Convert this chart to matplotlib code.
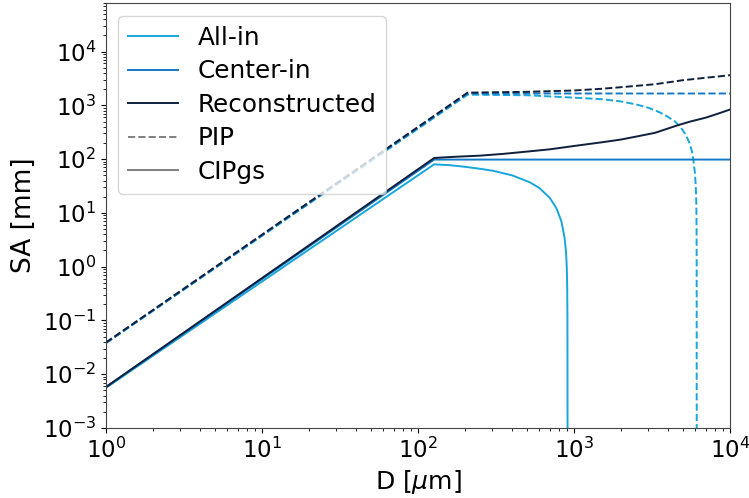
import matplotlib
matplotlib.use("Agg")
import matplotlib.pyplot as plt
from matplotlib.lines import Line2D

# colours per acceptance criterion
c_all = "#18a6dc"
c_center = "#1479c6"
c_recon = "#0f1f3d"

# CIPgs (solid)
cip_all_D = [1, 127, 160, 200, 250, 300, 400, 522, 600, 700, 774, 830, 870, 890,
             900, 905, 908, 910]
cip_all_SA = [0.0056, 80, 77, 72, 66, 61, 50, 37, 29, 19, 12, 7, 3.5, 1.8,
              0.9, 0.4, 0.1, 0.0001]

cip_center_D = [1, 127, 10000]
cip_center_SA = [0.0057, 98, 98]

cip_recon_D = [1, 127, 168, 250, 351, 500, 700, 1040, 1500, 2000, 2500, 3305,
               4000, 4550, 5500, 7000, 8500, 10000]
cip_recon_SA = [0.0058, 105, 110, 116, 125, 138, 152, 178, 205, 231, 262, 308,
                370, 420, 495, 590, 710, 835]

# PIP (dashed)
pip_all_D = [1, 208, 500, 1000, 1500, 1972, 2500, 3000, 3400, 3800, 4440, 4800,
             5200, 5500, 5700, 5820, 5950, 6030, 6080, 6100, 6110, 6115, 6118, 6120]
pip_all_SA = [0.038, 1580, 1540, 1390, 1300, 1190, 1040, 900, 780, 670, 500, 400,
              285, 200, 140, 98, 58, 33, 17, 9, 4, 1.5, 0.3, 0.0001]

pip_center_D = [1, 208, 10000]
pip_center_SA = [0.038, 1660, 1660]

pip_recon_D = [1, 208, 500, 1000, 1500, 2000, 2500, 3305, 4000, 5000, 6000, 7000,
               8500, 10000]
pip_recon_SA = [0.039, 1720, 1783, 1888, 2030, 2173, 2300, 2470, 2670, 2936, 3100,
                3260, 3450, 3630]

fig = plt.figure(figsize=(7.49, 4.98), dpi=100)
ax = fig.add_subplot(111)
fig.subplots_adjust(left=0.1415, right=0.9746, bottom=0.1406, top=0.994)

lw = 1.4
ax.plot(pip_all_D, pip_all_SA, "--", color=c_all, lw=lw)
ax.plot(pip_center_D, pip_center_SA, "--", color=c_center, lw=lw)
ax.plot(pip_recon_D, pip_recon_SA, "--", color=c_recon, lw=lw)

ax.plot(cip_all_D, cip_all_SA, "-", color=c_all, lw=lw)
ax.plot(cip_center_D, cip_center_SA, "-", color=c_center, lw=lw)
ax.plot(cip_recon_D, cip_recon_SA, "-", color=c_recon, lw=lw)

ax.set_xscale("log")
ax.set_yscale("log")
ax.set_xlim(1, 1e4)
ax.set_ylim(1e-3, 8e4)

ax.set_xlabel(r"D [$\mu$m]", fontsize=18)
ax.set_ylabel("SA [mm]", fontsize=19)
ax.tick_params(labelsize=16.5)
for s in ax.spines.values():
    s.set_color("#444444")

handles = [
    Line2D([], [], color=c_all, lw=lw),
    Line2D([], [], color=c_center, lw=lw),
    Line2D([], [], color=c_recon, lw=lw),
    Line2D([], [], color="gray", lw=lw, ls="--"),
    Line2D([], [], color="gray", lw=lw),
]
labels = ["All-in", "Center-in", "Reconstructed", "PIP", "CIPgs"]
ax.legend(handles, labels, loc="upper left", fontsize=17.8, labelspacing=0.38,
          bbox_to_anchor=(0.0, 0.998), borderaxespad=0.5)

fig.savefig("out.png", dpi=100)
